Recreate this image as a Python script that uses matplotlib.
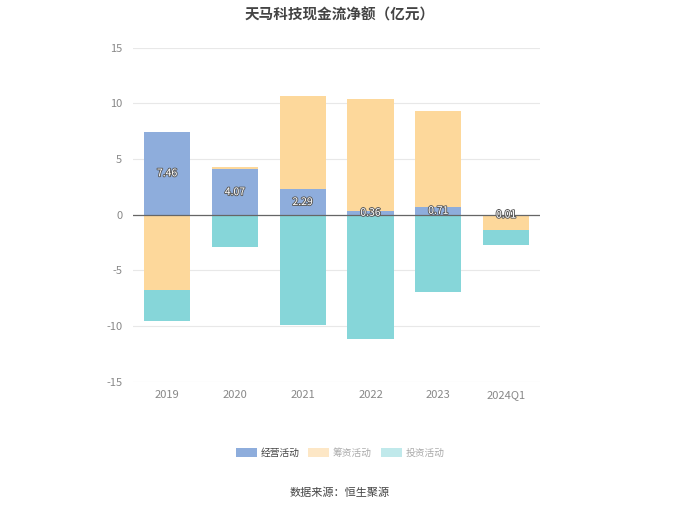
import matplotlib
matplotlib.use("Agg")
import matplotlib.pyplot as plt
import matplotlib.patheffects as pe
from matplotlib.patches import Patch
import numpy as np

plt.rcParams['font.family'] = ['Noto Sans CJK SC', 'DejaVu Sans']
plt.rcParams['axes.unicode_minus'] = False

categories = ['2019', '2020', '2021', '2022', '2023', '2024Q1']
operating = [7.46, 4.07, 2.29, 0.36, 0.71, 0.01]
financing = [-6.8, 0.18, 8.4, 10.0, 8.63, -1.38]
investing = [-2.75, -2.85, -9.88, -11.2, -6.92, -1.34]
series_names = ['经营活动', '筹资活动', '投资活动']
colors = ['#8eaddc', '#fdd89b', '#86d6d9']
legend_colors = ['#8eaddc', '#fde7c6', '#c0e9eb']

fig = plt.figure(figsize=(6.8, 5.09), dpi=100)
ax = fig.add_axes([0.196, 0.25, 0.598, 0.656])

x = np.arange(len(categories))
w = 0.68
pos_base = np.zeros(len(x))
neg_base = np.zeros(len(x))
for vals, c in zip([operating, financing, investing], colors):
    v = np.array(vals)
    bottoms = np.where(v >= 0, pos_base, neg_base)
    ax.bar(x, v, w, bottom=bottoms, color=c, zorder=2)
    pos_base = pos_base + np.where(v >= 0, v, 0)
    neg_base = neg_base + np.where(v < 0, v, 0)

for xi, v in zip(x, operating):
    ax.text(xi, v / 2, f'{v:.2f}', ha='center', va='center', fontsize=7.5,
            color='white', zorder=4,
            path_effects=[pe.withStroke(linewidth=1.3, foreground='#5a5a5a')])

ax.axhline(0, color='#666666', linewidth=0.9, zorder=3)
ax.set_ylim(-15, 15)
ax.set_yticks([-15, -10, -5, 0, 5, 10, 15])
ax.set_xlim(-0.5, len(x) - 0.5)
ax.set_xticks(x)
ax.set_xticklabels(categories)
ax.yaxis.grid(True, color='#e8e8e8', linewidth=0.8, zorder=0)
ax.set_axisbelow(True)
for s in ax.spines.values():
    s.set_visible(False)
ax.tick_params(axis='both', length=0, labelsize=8, colors='#888888', pad=6)
ax.tick_params(axis='y', pad=8)

fig.text(0.5, 0.972, '天马科技现金流净额（亿元）', ha='center', va='center',
         fontsize=10.5, fontweight='bold', color='#444444')

handles = [Patch(facecolor=c, edgecolor='none') for c in legend_colors]
leg = fig.legend(handles, series_names, loc='center', bbox_to_anchor=(0.5, 0.11),
                 ncol=3, frameon=False, fontsize=7, handlelength=2.2,
                 handleheight=1.0, columnspacing=0.9, handletextpad=0.35)
txt_colors = ['#444444', '#aaaaaa', '#aaaaaa']
for t, c in zip(leg.get_texts(), txt_colors):
    t.set_color(c)

fig.text(0.5, 0.031, '数据来源：恒生聚源', ha='center', va='center',
         fontsize=8, color='#444444')

fig.savefig('out.png', dpi=100)
